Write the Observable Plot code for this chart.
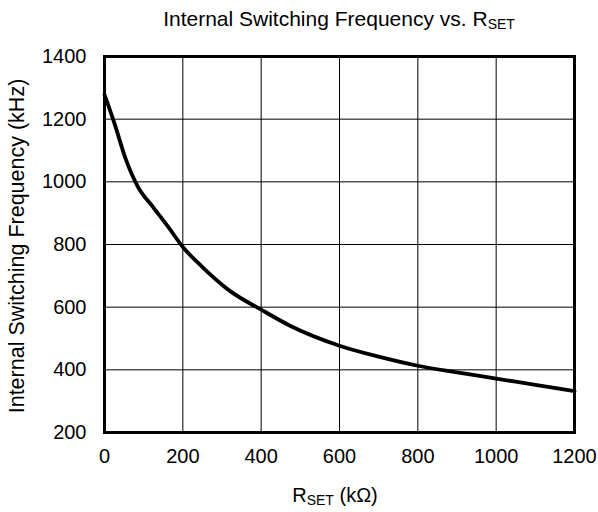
<!DOCTYPE html>
<html>
<head>
<meta charset="utf-8">
<script src="https://cdn.jsdelivr.net/npm/d3@7"></script>
<script src="https://cdn.jsdelivr.net/npm/@observablehq/plot@0.6"></script>
<style>
  body { margin: 0; background: #fff; font-family: "Liberation Sans", Arial, sans-serif; }
  #wrap { width: 598px; height: 512px; position: relative; }
  #title { height: 36px; padding: 8px 24px 0 104px; box-sizing: border-box; text-align: center;
           font-size: 21px; line-height: 21px; color: #000; white-space: nowrap; }
  #title sub { font-size: 14px; vertical-align: -3px; line-height: 0; }
  #chart svg { display: block; }
</style>
</head>
<body>
<div id="wrap">
  <div id="title">Internal Switching Frequency vs. R<sub>SET</sub></div>
  <div id="chart"></div>
</div>
<script>
const rset = [0, 25, 55, 85, 125, 165, 200, 250, 320, 400, 475, 600, 700, 800, 900, 1000, 1100, 1200];
const freq = [1278, 1188, 1070, 985, 918, 852, 792, 728, 652, 592, 540, 477, 442, 413, 392, 372, 352, 332];
const xTicks = [0, 200, 400, 600, 800, 1000, 1200];
const yTicks = [200, 400, 600, 800, 1000, 1200, 1400];

const data = rset.map((r, i) => ({r, f: freq[i]}));

const W = 598, H = 476;
const mT = 20, mB = 80, mL = 104, mR = 24;

const chart = Plot.plot({
  width: W, height: H,
  marginTop: mT, marginBottom: mB, marginLeft: mL, marginRight: mR,
  style: {fontFamily: "'Liberation Sans', Arial, sans-serif", fontSize: "20px", color: "#000", background: "#fff"},
  x: {domain: [0, 1200], label: null},
  y: {domain: [200, 1400], label: null},
  marks: [
    Plot.gridX(xTicks, {stroke: "#000", strokeOpacity: 1, strokeWidth: 1}),
    Plot.gridY(yTicks, {stroke: "#000", strokeOpacity: 1, strokeWidth: 1}),
    Plot.line(data, {x: "r", y: "f", stroke: "#000", strokeWidth: 3.8, curve: "monotone-x"}),
    Plot.frame({stroke: "#000", strokeWidth: 3}),
    Plot.axisX(xTicks, {tickSize: 0, tickPadding: 16, fontSize: 20, label: null, tickFormat: d => String(d)}),
    Plot.axisY(yTicks, {tickSize: 0, tickPadding: 18, fontSize: 20, label: null, tickFormat: d => String(d)})
  ]
});
document.getElementById("chart").appendChild(chart);

const svg = d3.select(chart);
const xl = svg.append("text")
  .attr("x", 335)
  .attr("y", 501.5 - 36)
  .attr("text-anchor", "middle")
  .attr("font-size", 20)
  .attr("fill", "#000");
xl.append("tspan").text("R");
xl.append("tspan").attr("font-size", 14).attr("dy", 3).text("SET");
xl.append("tspan").attr("dy", -3).text(" (kΩ)");

svg.append("text")
  .attr("transform", `translate(23.5,${246 - 36}) rotate(-90)`)
  .attr("text-anchor", "middle")
  .attr("font-size", 21.5)
  .attr("fill", "#000")
  .text("Internal Switching Frequency (kHz)");
</script>
</body>
</html>
